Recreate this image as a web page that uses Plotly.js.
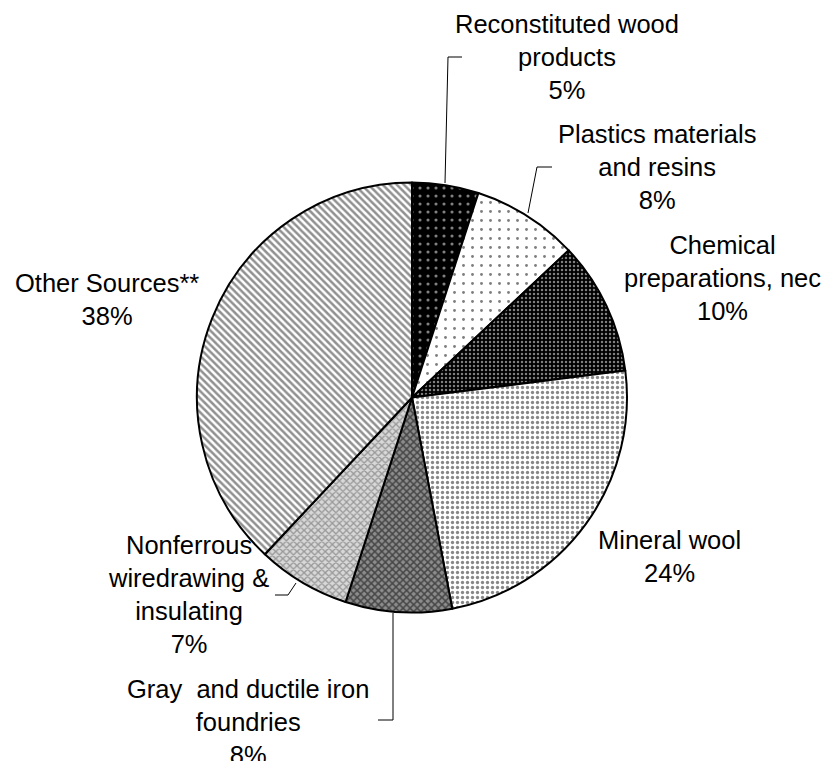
<!DOCTYPE html>
<html>
<head>
<meta charset="utf-8">
<script src="https://cdn.plot.ly/plotly-3.0.1.min.js"></script>
<style>html,body{margin:0;padding:0;background:#fff;}#chart{width:822px;height:761px;}</style>
</head>
<body>
<div id="chart"></div>
<script>
// ---- data ----
const categories = [
  "Reconstituted wood products",
  "Plastics materials and resins",
  "Chemical preparations, nec",
  "Mineral wool",
  "Gray  and ductile iron foundries",
  "Nonferrous wiredrawing & insulating",
  "Other Sources**"
];
const displayLabels = [
  "Reconstituted wood<br>products",
  "Plastics materials<br>and resins",
  "Chemical<br>preparations, nec",
  "Mineral wool",
  "Gray  and ductile iron<br>foundries",
  "Nonferrous<br>wiredrawing &<br>insulating",
  "Other Sources**"
];
const shares = [5, 8, 10, 24, 8, 7, 38];

// ---- styles ----
const W = 822, H = 761;
const px = x => x / W;
const py = y => 1 - y / H;
const bgColors = ["#000000", "#ffffff", "#000000", "#ffffff", "#8c8c8c", "#d8d8d8", "#ffffff"];
const fgColors = ["#ffffff", "#000000", "#ffffff", "#111111", "#000000", "#555555", "#222222"];
const shapes = [".", ".", ".", ".", "x", "x", "\\"];
const sizes = [8, 9, 4, 5, 5, 5, 5];
const solid = [0.12, 0.08, 0.3, 0.35, 0.5, 0.45, 0.5];

// label placement (pixel centres)
const labelPos = [
  [567, 57], [657, 167], [722, 278], [669, 556], [248, 722], [188, 594], [107, 300]
];
// leader lines (pixel paths)
const leaders = [
  [[462, 57], [448, 57], [445, 183]],
  [[552, 167], [537, 167], [528, 213]],
  [[393, 613], [393, 720], [378, 720]],
  [[275, 595], [288, 595], [296, 583]]
];

const font = {family: "Liberation Sans, Arial, sans-serif", size: 25.5, color: "#000"};

const annotations = categories.map((c, i) => ({
  xref: "paper", yref: "paper",
  x: px(labelPos[i][0]), y: py(labelPos[i][1]),
  xanchor: "center", yanchor: "middle", align: "center",
  showarrow: false,
  text: displayLabels[i] + "<br>" + shares[i] + "%",
  font: font
}));

const leaderShapes = leaders.map(pts => ({
  type: "path", xref: "paper", yref: "paper",
  path: pts.map((p, k) => (k ? "L" : "M") + px(p[0]) + "," + py(p[1])).join(" "),
  line: {color: "#000", width: 1}
}));

const trace = {
  type: "pie",
  labels: categories,
  values: shares,
  sort: false,
  direction: "clockwise",
  rotation: 0,
  textinfo: "none",
  hoverinfo: "label+percent",
  showlegend: false,
  domain: {x: [px(197), px(627)], y: [py(612.5), py(182.5)]},
  marker: {
    colors: bgColors,
    line: {color: "#000", width: 2},
    pattern: {shape: shapes, fgcolor: fgColors, bgcolor: bgColors, size: sizes, solidity: solid, fillmode: "overlay"}
  }
};

const layout = {
  width: W, height: H,
  margin: {l: 0, r: 0, t: 0, b: 0},
  paper_bgcolor: "#fff",
  plot_bgcolor: "#fff",
  font: font,
  annotations: annotations,
  shapes: leaderShapes
};

Plotly.newPlot("chart", [trace], layout, {displayModeBar: false, staticPlot: true});
</script>
</body>
</html>
